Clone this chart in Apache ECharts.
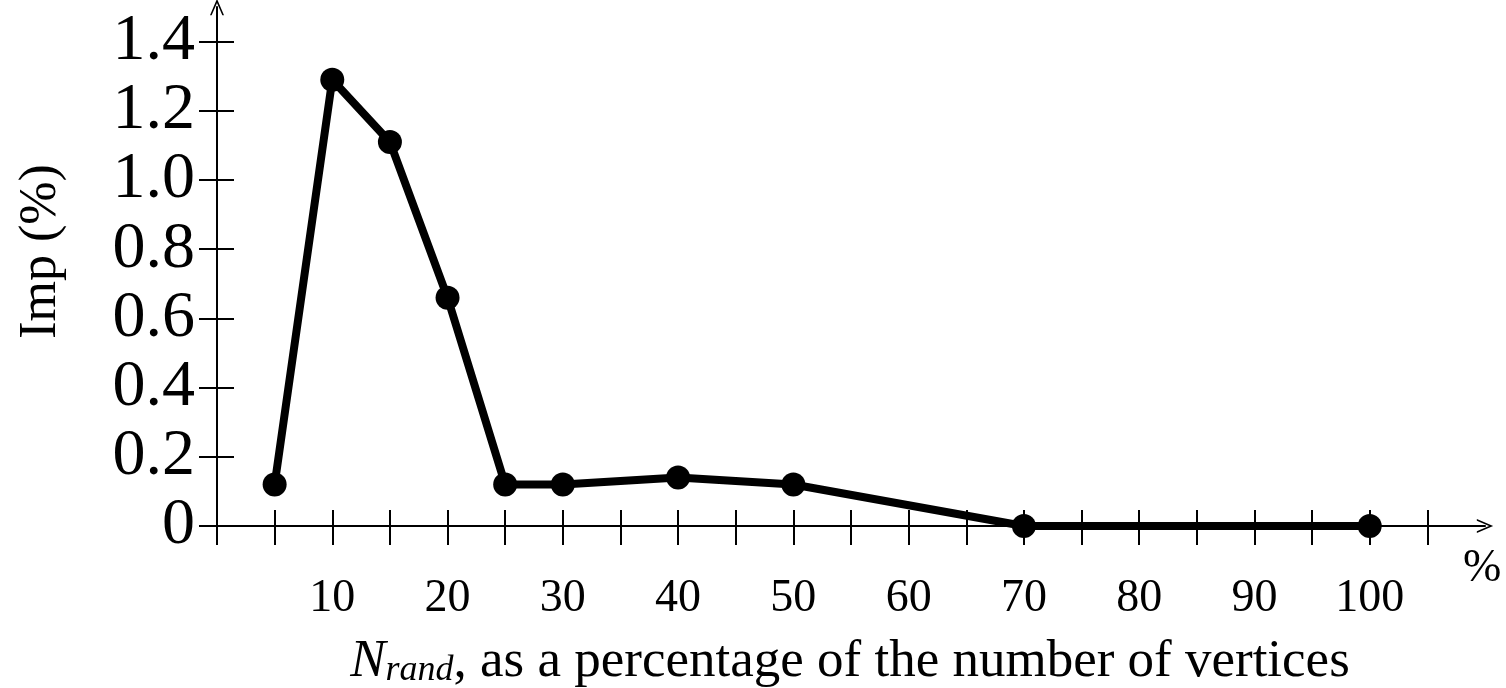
<!DOCTYPE html>
<html>
<head>
<meta charset="utf-8">
<script src="https://cdn.jsdelivr.net/npm/echarts@6/dist/echarts.min.js"></script>
<style>
html,body{margin:0;padding:0;background:#fff;}
#chart{width:1506px;height:688px;}
</style>
</head>
<body>
<div id="chart"></div>
<script>
const xValues = [5, 10, 15, 20, 25, 30, 40, 50, 70, 100];
const impValues = [0.12, 1.29, 1.11, 0.66, 0.12, 0.12, 0.14, 0.12, 0, 0];
const xTickValues = [0,5,10,15,20,25,30,35,40,45,50,55,60,65,70,75,80,85,90,95,100,105];
const xLabelValues = [10,20,30,40,50,60,70,80,90,100];
const yTickValues = [0,0.2,0.4,0.6,0.8,1.0,1.2,1.4];
const yLabelTexts = {"0":"0","0.2":"0.2","0.4":"0.4","0.6":"0.6","0.8":"0.8","1":"1.0","1.2":"1.2","1.4":"1.4"};

const serif = "'Liberation Serif','DejaVu Serif',serif";
const arrowPath = 'path://M6,0 L12,14 L10.6,14 L6,3.5 L1.4,14 L0,14 Z';
const chart = echarts.init(document.getElementById('chart'));
chart.setOption({
  animation: false,
  backgroundColor: '#fff',
  grid: {left: 217, right: 21, top: 7, bottom: 162, containLabel: false, outerBoundsMode: 'none'},
  title: {
    text: '{n|N}{s|rand}{t|, as a percentage of the number of vertices}',
    left: 845, top: 630, textAlign: 'center',
    textStyle: {
      rich: {
        n: {fontFamily: serif, fontStyle: 'italic', fontWeight: 'normal', fontSize: 53, color: '#000'},
        s: {fontFamily: serif, fontStyle: 'italic', fontWeight: 'normal', fontSize: 36, color: '#000', verticalAlign: 'bottom', padding: [18,0,0,0]},
        t: {fontFamily: serif, fontWeight: 'normal', fontSize: 53, color: '#000'}
      }
    }
  },
  xAxis: [{
    type: 'value', min: 0, max: 110,
    name: '%', nameLocation: 'end', nameGap: -22,
    nameTextStyle: {fontFamily: serif, fontSize: 46, color: '#000', verticalAlign: 'top', padding: [20,0,0,0]},
    axisLine: {onZero: false, symbol: ['none', arrowPath], symbolSize: [14, 18], lineStyle: {color: '#000', width: 2}},
    axisTick: {show: true, inside: false, length: 19, customValues: xTickValues, lineStyle: {color: '#000', width: 2}},
    axisLabel: {customValues: xLabelValues, margin: 50, fontFamily: serif, fontSize: 46, color: '#000', hideOverlap: false},
    splitLine: {show: false}
  }, {
    type: 'value', min: 0, max: 110, position: 'bottom',
    axisLine: {show: false, onZero: false},
    axisTick: {show: true, inside: true, length: 16, customValues: xTickValues, lineStyle: {color: '#000', width: 2}},
    axisLabel: {show: false},
    splitLine: {show: false}
  }],
  yAxis: [{
    type: 'value', min: 0, max: 1.5,
    name: 'Imp (%)', nameLocation: 'middle', nameGap: 150, nameRotate: 90,
    nameTextStyle: {fontFamily: serif, fontSize: 52, color: '#000', padding: [0, 0, 0, 30]},
    axisLine: {onZero: false, symbol: ['none', arrowPath], symbolSize: [14, 18], lineStyle: {color: '#000', width: 2}},
    axisTick: {show: true, length: 18, customValues: yTickValues, lineStyle: {color: '#000', width: 2}},
    axisLabel: {customValues: yTickValues, margin: 22, fontFamily: serif, fontSize: 66, lineHeight: 60,
      color: '#000', hideOverlap: false,
      formatter: v => yLabelTexts[String(Math.round(v*10)/10)] || String(v)},
    splitLine: {show: false}
  }, {
    type: 'value', min: 0, max: 1.5, position: 'left',
    axisLine: {show: false, onZero: false},
    axisTick: {show: true, inside: true, length: 17, customValues: yTickValues, lineStyle: {color: '#000', width: 2}},
    axisLabel: {show: false},
    splitLine: {show: false}
  }],
  series: [{
    type: 'line',
    data: xValues.map((x, i) => [x, impValues[i]]),
    symbol: 'circle', symbolSize: 24,
    lineStyle: {color: '#000', width: 8},
    itemStyle: {color: '#000'},
    z: 5
  }]
});
</script>
</body>
</html>
